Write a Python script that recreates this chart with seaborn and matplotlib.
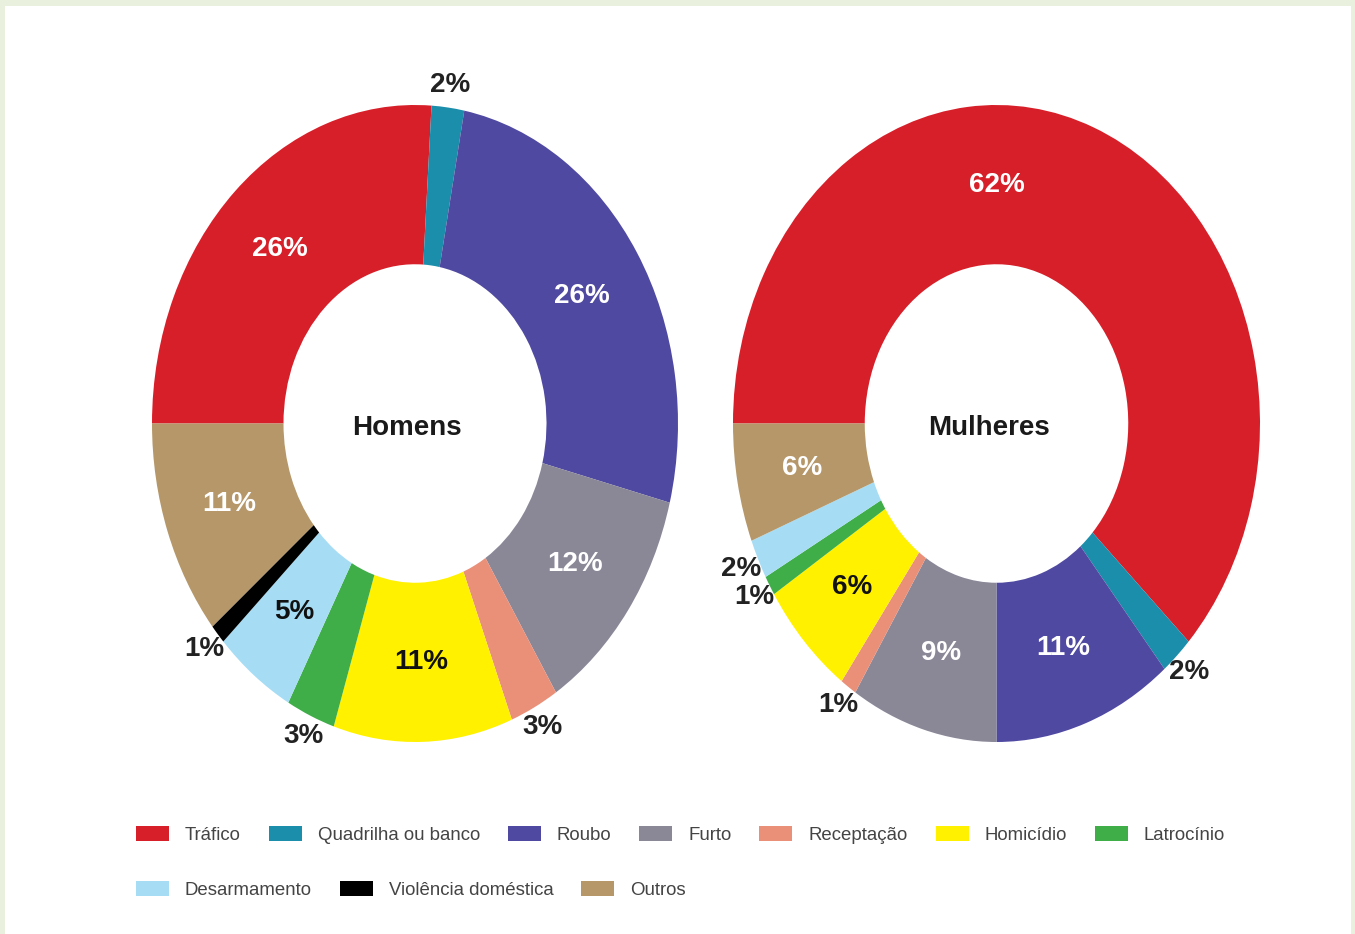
import matplotlib
matplotlib.use("Agg")
import matplotlib.pyplot as plt
from matplotlib.patches import Patch, Rectangle
import numpy as np
import seaborn as sns

# ─────────────────────────────────────────────
# Data
# ─────────────────────────────────────────────
categorias = ["Tráfico", "Quadrilha ou banco", "Roubo", "Furto", "Receptação",
              "Homicídio", "Latrocínio", "Desarmamento", "Violência doméstica", "Outros"]
homens   = [26, 2, 26, 12, 3, 11, 3, 5, 1, 11]
mulheres = [62, 2, 11, 9, 1, 6, 1, 2, 0, 6]

cores = ["#d71f29", "#1a8eab", "#4f49a1", "#8a8797", "#ea8f78",
         "#fff100", "#3fad48", "#a6ddf5", "#000000", "#b59769"]

# label placement: inside the ring (True) or just outside (False)
dentro_homens   = [True, False, True, True, False, True, False, True, False, True]
dentro_mulheres = [True, False, True, True, False, True, False, False, False, True]
# label colour for inside labels
texto_claro = [True, True, True, True, False, False, False, False, True, True]
# extra angular shift (degrees) for the big slice label
desvio_mulheres = [21.6, 0, 0, 0, 0, 0, 0, 0, 0, 0]
desvio_homens   = [0] * 10

FONT = ["Liberation Sans", "DejaVu Sans"]

sns.set_theme(style="white")
plt.rcParams["font.family"] = FONT

fig = plt.figure(figsize=(13.55, 9.34), dpi=100)
fig.patch.set_facecolor("#e9f1de")
fig.patches.append(Rectangle((5 / 1355, 0), 1346 / 1355, 928 / 934,
                             transform=fig.transFigure, facecolor="white",
                             edgecolor="none", zorder=-10))


def donut(rect, valores, titulo, dentro, desvio):
    ax = fig.add_axes(rect)
    ax.pie(valores, colors=cores, startangle=180, counterclock=False,
           radius=1.0, wedgeprops=dict(width=0.5, edgecolor="none", linewidth=0))
    ax.set_aspect("auto")
    ax.set_xlim(-1, 1)
    ax.set_ylim(-1, 1)
    ax.axis("off")

    total = sum(valores)
    inicio = 180.0
    for i, v in enumerate(valores):
        passo = 360.0 * v / total
        meio = inicio - passo / 2 + desvio[i]
        inicio -= passo
        if v == 0:
            continue
        r = 0.75 if dentro[i] else 1.07
        cor = ("white" if texto_claro[i] else "#111111") if dentro[i] else "#222222"
        a = np.deg2rad(meio)
        ax.text(r * np.cos(a), r * np.sin(a), f"{v}%", ha="center", va="center",
                fontsize=20, fontweight="bold", color=cor)

    ax.text(-0.03, -0.015, titulo, ha="center", va="center", fontsize=20,
            fontweight="bold", color="#1a1a1a")
    return ax


donut([152 / 1355, 192 / 934, 526 / 1355, 637 / 934], homens, "Homens",
      dentro_homens, desvio_homens)
donut([733 / 1355, 192 / 934, 527 / 1355, 637 / 934], mulheres, "Mulheres",
      dentro_mulheres, desvio_mulheres)

# ─────────────────────────────────────────────
# Legend (two flowing rows)
# ─────────────────────────────────────────────
handles = [Patch(facecolor=c, edgecolor="none", label=l) for c, l in zip(cores, categorias)]
leg_kw = dict(frameon=False, fontsize=13.4, handlelength=1.77, handleheight=0.9,
              handletextpad=0.86, columnspacing=1.5, borderpad=0, borderaxespad=0,
              labelcolor="#444444", loc="center left")

leg1 = fig.legend(handles=handles[:7], ncol=7, bbox_to_anchor=(136 / 1355, 1 - 835 / 934), **leg_kw)
leg2 = fig.legend(handles=handles[7:], ncol=3, bbox_to_anchor=(136 / 1355, 1 - 890 / 934), **leg_kw)

fig.savefig("out.png", dpi=100, facecolor=fig.get_facecolor())
